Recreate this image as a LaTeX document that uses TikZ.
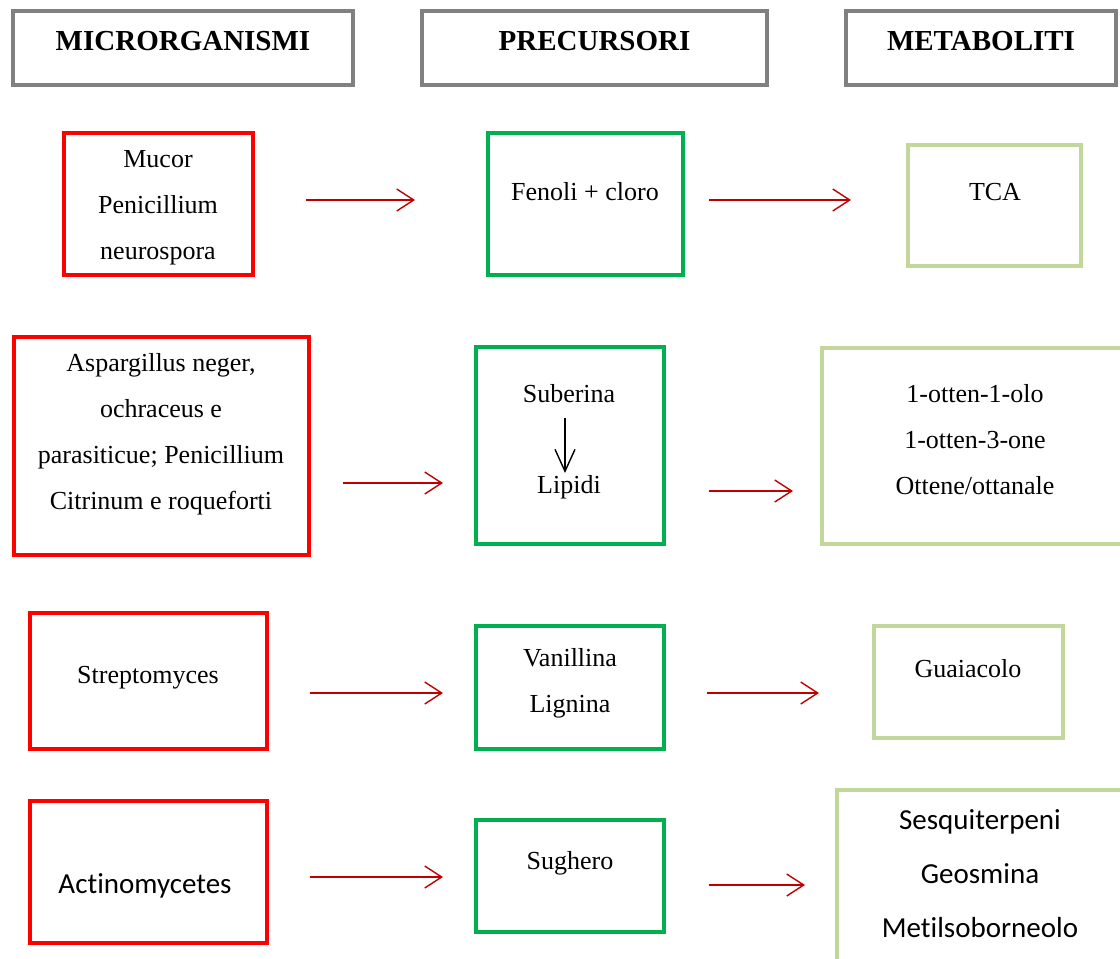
\documentclass[tikz,border=0pt]{standalone}
\usepackage{fontspec}
\setmainfont{Liberation Serif}
\newfontfamily\calibri[Ligatures=NoCommon]{Carlito}
\usetikzlibrary{arrows.meta}
\definecolor{hgray}{HTML}{808080}
\definecolor{bred}{HTML}{FF0000}
\definecolor{bgreen}{HTML}{00B050}
\definecolor{lgreen}{HTML}{C3D69B}
\definecolor{ared}{HTML}{C00000}
\tikzset{
  boxbase/.style={draw, line width=4pt, inner sep=0pt, outer sep=0pt},
  hdrbox/.style={boxbase, draw=hgray},
  redbox/.style={boxbase, draw=bred},
  grnbox/.style={boxbase, draw=bgreen},
  lgrbox/.style={boxbase, draw=lgreen},
  hdrtxt/.style={font=\fontsize{29}{34}\selectfont\bfseries, inner sep=0pt},
  txt/.style={font=\fontsize{26}{46}\selectfont, align=center, inner sep=0pt},
  stxt/.style={font=\calibri\fontsize{29}{54}\selectfont, align=center, inner sep=0pt},
  flow/.style={draw=ared, line width=1.4pt, -{Straight Barb[length=17pt,width=22pt,line width=1.4pt]}},
  inner/.style={draw=black, line width=1.4pt, -{Straight Barb[length=22pt,width=20pt,line width=1.4pt]}},
}
\begin{document}
\begin{tikzpicture}[x=1pt,y=-1pt]
\useasboundingbox (0,0) rectangle (1120,959);
% headers
\node[hdrbox, minimum width=340pt, minimum height=74pt] (h1) at (183,48) {};
\node[hdrbox, minimum width=345pt, minimum height=74pt] (h2) at (594.5,48) {};
\node[hdrbox, minimum width=270pt, minimum height=74pt] (h3) at (981,48) {};
\node[hdrtxt] (t1) at (183,41) {MICRORGANISMI};
\node[hdrtxt] (t2) at (594.5,41) {PRECURSORI};
\node[hdrtxt] (t3) at (981,41) {METABOLITI};
% row 1
\node[redbox, minimum width=189pt, minimum height=142pt] (r1) at (158.5,204) {};
\node[grnbox, minimum width=195pt, minimum height=142pt] (g1) at (585.5,204) {};
\node[lgrbox, minimum width=173pt, minimum height=121pt] (l1) at (994.5,205.5) {};
\node[txt] (r1t) at (158,208) {Mucor\\Penicillium\\neurospora};
\node[txt] (g1t) at (585,192) {Fenoli + cloro};
\node[txt] (l1t) at (995,192) {TCA};
\coordinate (a1s) at (306,200); \coordinate (a1e) at (415,200);
\coordinate (b1s) at (709,200); \coordinate (b1e) at (851,200);
\draw[flow] (a1s) -- (a1e);
\draw[flow] (b1s) -- (b1e);
% row 2
\node[redbox, minimum width=295pt, minimum height=218pt] (r2) at (161.5,446) {};
\node[grnbox, minimum width=188pt, minimum height=197pt] (g2) at (570,445.5) {};
\node[lgrbox, minimum width=303pt, minimum height=196pt] (l2) at (973.5,446) {};
\node[txt] (r2t) at (161,434) {Aspargillus neger,\\ochraceus e\\parasiticue; Penicillium\\Citrinum e roqueforti};
\node[txt] (g2a) at (569,394) {Suberina};
\node[txt] (g2b) at (569,487) {Lipidi};
\coordinate (c2s) at (565,418); \coordinate (c2e) at (565,473);
\draw[inner] (c2s) -- (c2e);
\node[txt] (l2t) at (975,440) {1-otten-1-olo\\1-otten-3-one\\Ottene/ottanale};
\coordinate (a2s) at (343,483); \coordinate (a2e) at (443,483);
\coordinate (b2s) at (709,491); \coordinate (b2e) at (793,491);
\draw[flow] (a2s) -- (a2e);
\draw[flow] (b2s) -- (b2e);
% row 3
\node[redbox, minimum width=237pt, minimum height=136pt] (r3) at (148.5,681) {};
\node[grnbox, minimum width=188pt, minimum height=123pt] (g3) at (570,687.5) {};
\node[lgrbox, minimum width=189pt, minimum height=112pt] (l3) at (968.5,682) {};
\node[txt] (r3t) at (148,678) {Streptomyces};
\node[txt] (g3t) at (570,683) {Vanillina\\Lignina};
\node[txt] (l3t) at (968,669) {Guaiacolo};
\coordinate (a3s) at (310,693); \coordinate (a3e) at (443,693);
\coordinate (b3s) at (707,693); \coordinate (b3e) at (819,693);
\draw[flow] (a3s) -- (a3e);
\draw[flow] (b3s) -- (b3e);
% row 4
\node[redbox, minimum width=237pt, minimum height=142pt] (r4) at (148.5,872) {};
\node[grnbox, minimum width=188pt, minimum height=112pt] (g4) at (570,876) {};
\node[lgrbox, minimum width=293pt, minimum height=180pt] (l4) at (983.5,880) {};
\node[stxt] (r4t) at (145,886) {Actinomycetes};
\node[txt] (g4t) at (570,863) {Sughero};
\node[stxt] (l4t) at (980,874) {Sesquiterpeni\\Geosmina\\Metilsoborneolo};
\coordinate (a4s) at (310,877); \coordinate (a4e) at (443,877);
\coordinate (b4s) at (709,885); \coordinate (b4e) at (805,885);
\draw[flow] (a4s) -- (a4e);
\draw[flow] (b4s) -- (b4e);
\end{tikzpicture}
\end{document}
